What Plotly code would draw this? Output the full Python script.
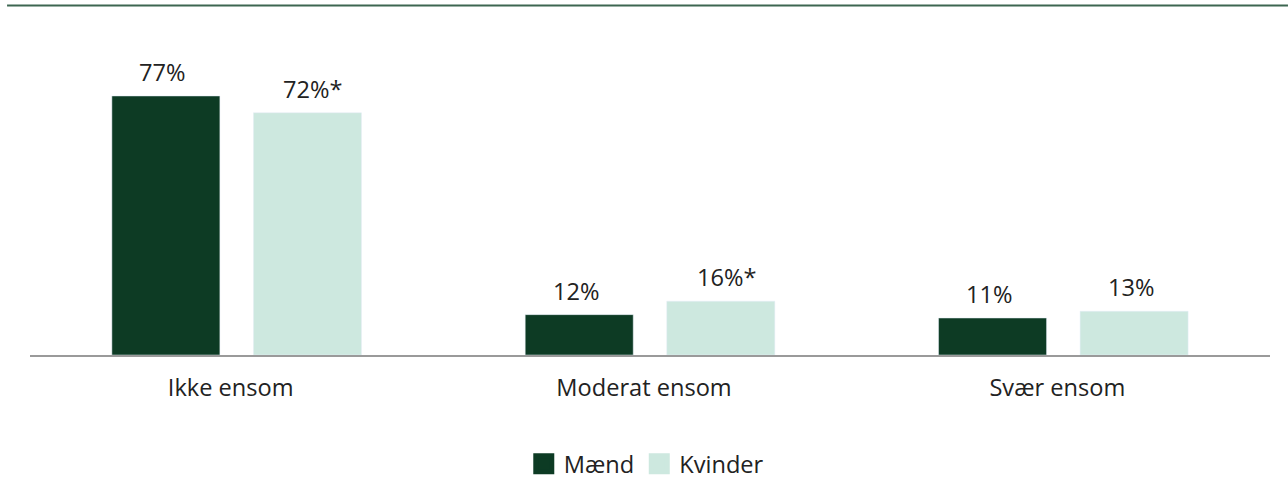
import plotly.graph_objects as go

categories = ["Ikke ensom", "Moderat ensom", "Svær ensom"]
maend = [77, 12, 11]
kvinder = [72, 16, 13]
maend_labels = ["77%", "12%", "11%"]
kvinder_labels = ["72%*", "16%*", "13%"]

C_M = "#0d3b24"
C_K = "#cde8df"
FONT = "Open Sans, Noto Sans, sans-serif"
TXT = "#222222"
FS = 23.6

fig = go.Figure()
fig.add_trace(go.Bar(x=categories, y=maend, name="Mænd", marker_color=C_M,
                     showlegend=False, hoverinfo="skip"))
fig.add_trace(go.Bar(x=categories, y=kvinder, name="Kvinder", marker_color=C_K,
                     showlegend=False, hoverinfo="skip"))
# legend-only markers (larger squares)
fig.add_trace(go.Scatter(x=[None], y=[None], mode="markers", name="Mænd",
                         marker=dict(symbol="square", size=16, color=C_M,
                                     line=dict(color=C_M, width=5))))
fig.add_trace(go.Scatter(x=[None], y=[None], mode="markers", name="Kvinder",
                         marker=dict(symbol="square", size=16, color=C_K,
                                     line=dict(color=C_K, width=5))))

for cat, v, t in zip(categories, maend, maend_labels):
    fig.add_annotation(x=cat, y=v, text=t, showarrow=False, yanchor="bottom",
                       xshift=-74 + (7 if "*" in t else 0), yshift=6,
                       font=dict(size=FS, color=TXT, family=FONT))
for cat, v, t in zip(categories, kvinder, kvinder_labels):
    fig.add_annotation(x=cat, y=v, text=t, showarrow=False, yanchor="bottom",
                       xshift=68 + (8 if "*" in t else 0), yshift=6,
                       font=dict(size=FS, color=TXT, family=FONT))

fig.add_shape(type="line", xref="paper", yref="paper", x0=-0.0185, x1=1.0145,
              y0=1.059, y1=1.059, line=dict(color="#3d6651", width=2))

fig.update_layout(
    width=1288, height=501,
    margin=dict(l=30, r=18, t=25, b=146),
    plot_bgcolor="white", paper_bgcolor="white",
    barmode="group", bargap=0.315, bargroupgap=0.237,
    font=dict(family=FONT, size=FS, color=TXT),
    xaxis=dict(showline=True, linecolor="#9a9a9a", linewidth=1.5, ticks="",
               ticklabelstandoff=11, ticklabelshift=-6,
               tickfont=dict(size=FS, color=TXT), fixedrange=True),
    yaxis=dict(range=[0, 98.1], visible=False, showgrid=False, fixedrange=True),
    legend=dict(orientation="h", x=0.497, xanchor="center", y=-0.33, yanchor="middle",
                font=dict(size=FS, color=TXT), tracegroupgap=0),
)

fig.write_html("out.html", post_script="document.body.style.margin='0';",
               config={"displayModeBar": False})
